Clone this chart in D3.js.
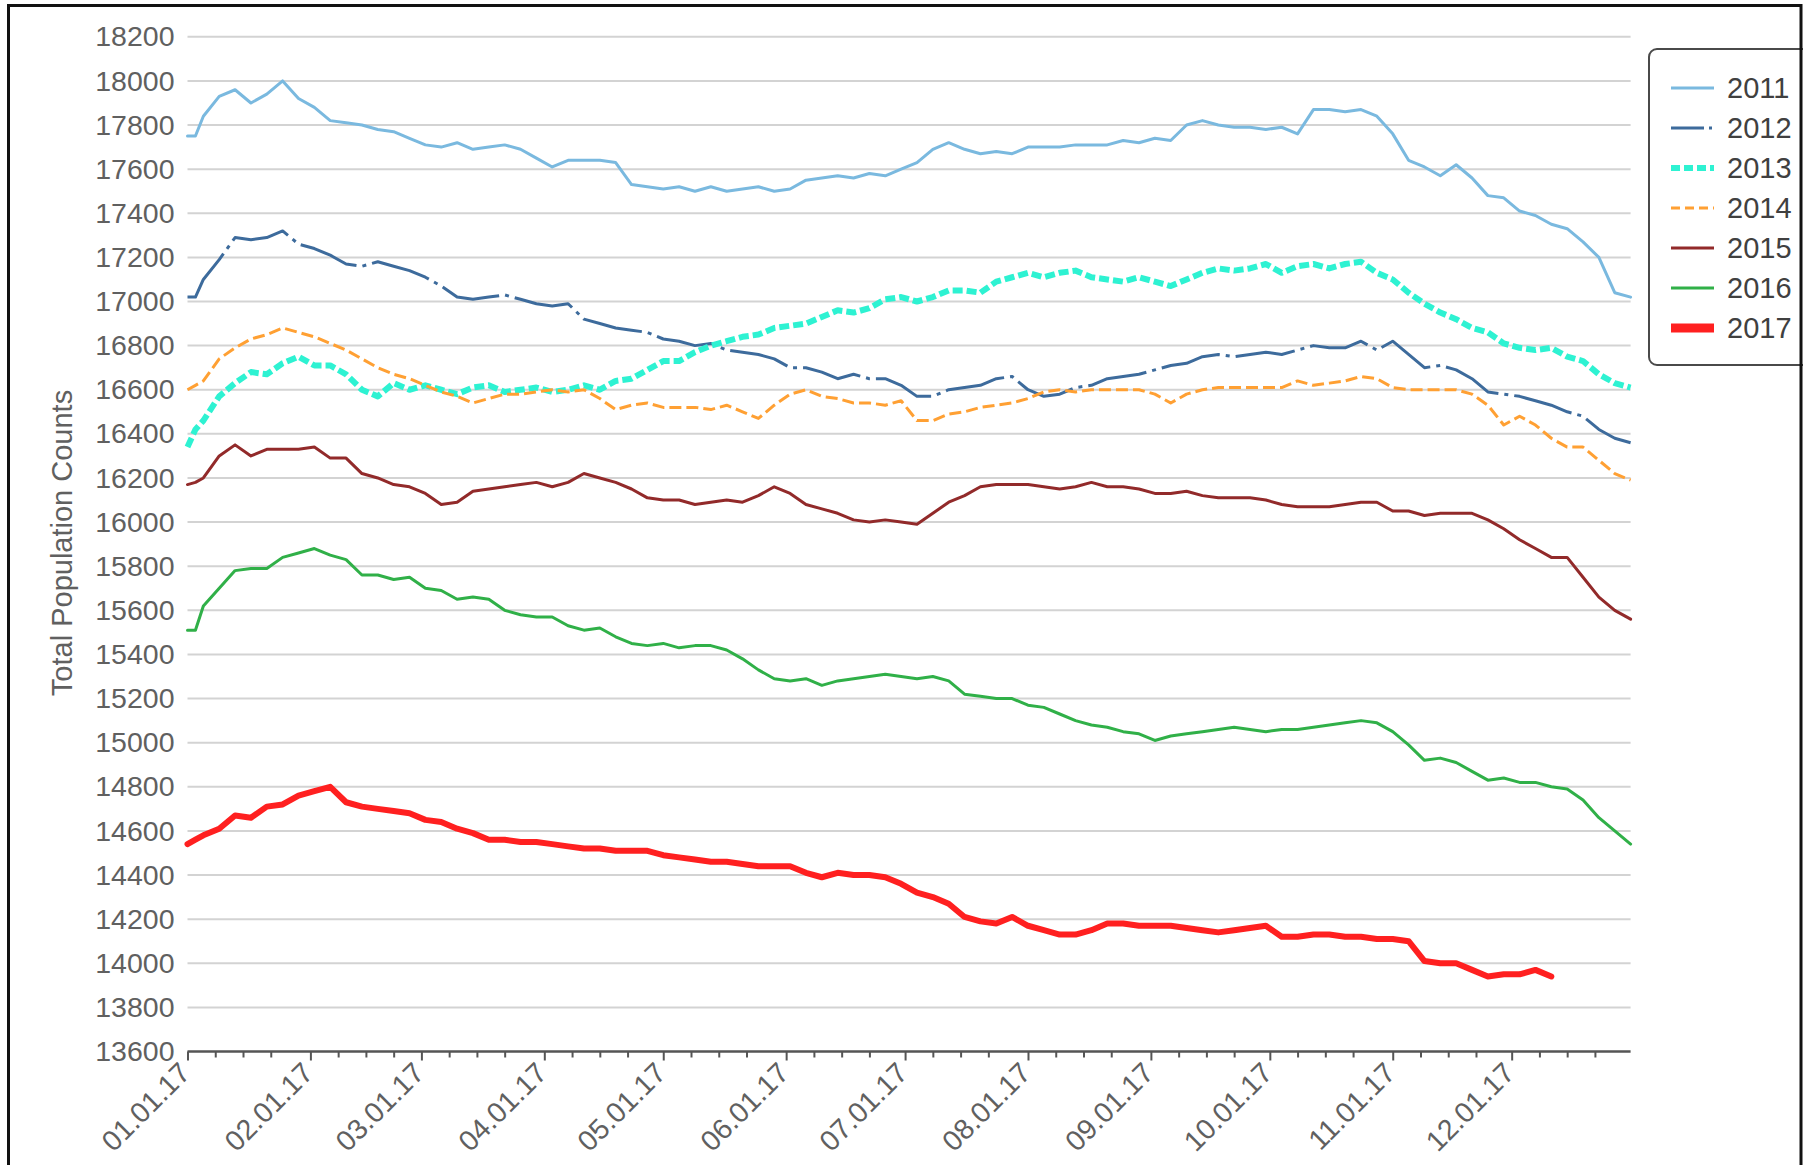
<!DOCTYPE html>
<html><head><meta charset="utf-8">
<script src="https://cdn.jsdelivr.net/npm/d3@7"></script>
<style>
body{margin:0;background:#fff;}
svg{display:block;font-family:"Liberation Sans",Arial,sans-serif;}
</style>
</head><body>
<svg id="chart" width="1803" height="1165"></svg>
<script>
// ---------------- DATA ----------------
const years = ["2011","2012","2013","2014","2015","2016","2017"];
// day of year (0 = Jan 1) of each sample
const dayOffsets = [0,2,4,8,12,16,20,24,28,32,36,40,44,48,52,56,60,64,68,72,76,80,84,88,92,96,100,104,108,112,116,120,124,128,132,136,140,144,148,152,156,160,164,168,172,176,180,184,188,192,196,200,204,208,212,216,220,224,228,232,236,240,244,248,252,256,260,264,268,272,276,280,284,288,292,296,300,304,308,312,316,320,324,328,332,336,340,344,348,352,356,360,364];

const v2011 = [17750,17750,17840,17930,17960,17900,17940,18000,17920,17880,17820,17810,17800,17780,17770,17740,17710,17700,17720,17690,17700,17710,17690,17650,17610,17640,17640,17640,17630,17530,17520,17510,17520,17500,17520,17500,17510,17520,17500,17510,17550,17560,17570,17560,17580,17570,17600,17630,17690,17720,17690,17670,17680,17670,17700,17700,17700,17710,17710,17710,17730,17720,17740,17730,17800,17820,17800,17790,17790,17780,17790,17760,17870,17870,17860,17870,17840,17760,17640,17610,17570,17620,17560,17480,17470,17410,17390,17350,17330,17270,17200,17040,17020];

const v2012 = [17020,17020,17100,17190,17290,17280,17290,17320,17260,17240,17210,17170,17160,17180,17160,17140,17110,17070,17020,17010,17020,17030,17010,16990,16980,16990,16920,16900,16880,16870,16860,16830,16820,16800,16810,16780,16770,16760,16740,16700,16700,16680,16650,16670,16650,16650,16620,16570,16570,16600,16610,16620,16650,16660,16600,16570,16580,16610,16620,16650,16660,16670,16690,16710,16720,16750,16760,16750,16760,16770,16760,16780,16800,16790,16790,16820,16780,16820,16760,16700,16710,16690,16650,16590,16580,16570,16550,16530,16500,16480,16420,16380,16360];

const v2013 = [16340,16420,16460,16570,16630,16680,16670,16720,16750,16710,16710,16670,16600,16570,16630,16600,16620,16600,16580,16610,16620,16590,16600,16610,16590,16600,16620,16600,16640,16650,16690,16730,16730,16770,16800,16820,16840,16850,16880,16890,16900,16930,16960,16950,16970,17010,17020,17000,17020,17050,17050,17040,17090,17110,17130,17110,17130,17140,17110,17100,17090,17110,17090,17070,17100,17130,17150,17140,17150,17170,17130,17160,17170,17150,17170,17180,17130,17100,17040,16990,16950,16920,16880,16860,16810,16790,16780,16790,16750,16730,16670,16630,16610];

const v2014 = [16600,16620,16640,16740,16790,16830,16850,16880,16860,16840,16810,16780,16740,16700,16670,16650,16620,16590,16570,16540,16560,16580,16580,16590,16600,16590,16600,16560,16510,16530,16540,16520,16520,16520,16510,16530,16500,16470,16530,16580,16600,16570,16560,16540,16540,16530,16550,16460,16460,16490,16500,16520,16530,16540,16560,16590,16600,16590,16600,16600,16600,16600,16580,16540,16580,16600,16610,16610,16610,16610,16610,16640,16620,16630,16640,16660,16650,16610,16600,16600,16600,16600,16580,16530,16440,16480,16440,16380,16340,16340,16280,16220,16190];

const v2015 = [16170,16180,16200,16300,16350,16300,16330,16330,16330,16340,16290,16290,16220,16200,16170,16160,16130,16080,16090,16140,16150,16160,16170,16180,16160,16180,16220,16200,16180,16150,16110,16100,16100,16080,16090,16100,16090,16120,16160,16130,16080,16060,16040,16010,16000,16010,16000,15990,16040,16090,16120,16160,16170,16170,16170,16160,16150,16160,16180,16160,16160,16150,16130,16130,16140,16120,16110,16110,16110,16100,16080,16070,16070,16070,16080,16090,16090,16050,16050,16030,16040,16040,16040,16010,15970,15920,15880,15840,15840,15750,15660,15600,15560];

const v2016 = [15510,15510,15620,15700,15780,15790,15790,15840,15860,15880,15850,15830,15760,15760,15740,15750,15700,15690,15650,15660,15650,15600,15580,15570,15570,15530,15510,15520,15480,15450,15440,15450,15430,15440,15440,15420,15380,15330,15290,15280,15290,15260,15280,15290,15300,15310,15300,15290,15300,15280,15220,15210,15200,15200,15170,15160,15130,15100,15080,15070,15050,15040,15010,15030,15040,15050,15060,15070,15060,15050,15060,15060,15070,15080,15090,15100,15090,15050,14990,14920,14930,14910,14870,14830,14840,14820,14820,14800,14790,14740,14660,14600,14540];

const v2017 = [14540,14560,14580,14610,14670,14660,14710,14720,14760,14780,14800,14730,14710,14700,14690,14680,14650,14640,14610,14590,14560,14560,14550,14550,14540,14530,14520,14520,14510,14510,14510,14490,14480,14470,14460,14460,14450,14440,14440,14440,14410,14390,14410,14400,14400,14390,14360,14320,14300,14270,14210,14190,14180,14210,14170,14150,14130,14130,14150,14180,14180,14170,14170,14170,14160,14150,14140,14150,14160,14170,14120,14120,14130,14130,14120,14120,14110,14110,14100,14010,14000,14000,13970,13940,13950,13950,13970,13940];

const yTicks = [13600,13800,14000,14200,14400,14600,14800,15000,15200,15400,15600,15800,16000,16200,16400,16600,16800,17000,17200,17400,17600,17800,18000,18200];
const monthLabels = ["01.01.17","02.01.17","03.01.17","04.01.17","05.01.17","06.01.17","07.01.17","08.01.17","09.01.17","10.01.17","11.01.17","12.01.17"];
const minorTickDays = [8,15,22];
const yTitle = "Total Population Counts";

// ---------------- STYLE ----------------
const seriesStyle = {
  "2011": {color:"#7ab9df", width:3, dash:null, legendDash:null},
  "2012": {color:"#3d6b9c", width:3, dash:"60,6,4,6", legendDash:"33,5,3,5"},
  "2013": {color:"#2ef2d2", width:6, dash:"10,4", legendDash:"9,4"},
  "2014": {color:"#ffa033", width:3, dash:"12,5", legendDash:"9,5"},
  "2015": {color:"#922a2a", width:3, dash:null, legendDash:null},
  "2016": {color:"#30b048", width:3, dash:null, legendDash:null},
  "2017": {color:"#ff2020", width:6, dash:null, legendDash:null, legendWidth:9}
};
const seriesValues = {"2011":v2011,"2012":v2012,"2013":v2013,"2014":v2014,"2015":v2015,"2016":v2016,"2017":v2017};

// ---------------- CHART ----------------
const svg = d3.select("#chart");
const start = new Date(Date.UTC(2017,0,1));
const end = new Date(Date.UTC(2017,11,31));
const x = d3.scaleUtc().domain([start,end]).range([187.5,1630.6]);
const y = d3.scaleLinear().domain([13600,18200]).range([1051.5,36.8]);
const dateOf = d => d3.utcDay.offset(start,d);
const FONT = "Liberation Sans, Arial, sans-serif";

// grid
svg.append("g").selectAll("line").data(yTicks.filter(t=>t>13600)).join("line")
  .attr("x1",x.range()[0]).attr("x2",x.range()[1])
  .attr("y1",d=>y(d)).attr("y2",d=>y(d))
  .attr("stroke","#d3d3d3").attr("stroke-width",2);

// y axis (labels only)
const yAxis = d3.axisLeft(y).tickValues(yTicks).tickSize(0).tickPadding(13).tickFormat(d3.format("d"));
const yg = svg.append("g").attr("transform",`translate(${x.range()[0]},0)`).call(yAxis);
yg.select(".domain").remove();
yg.selectAll("text").attr("font-size",28.5).attr("fill","#606060").attr("font-family",FONT);

// y title
svg.append("text").text(yTitle)
  .attr("transform","translate(64,543) rotate(-90)")
  .attr("text-anchor","middle").attr("dominant-baseline","middle")
  .attr("font-size",29).attr("fill","#606060");

// x axis
const monthDates = d3.range(12).map(m=>new Date(Date.UTC(2017,m,1)));
const minorDates = [];
monthDates.forEach(md=>minorTickDays.forEach(dd=>minorDates.push(new Date(Date.UTC(2017,md.getUTCMonth(),dd)))));
const xMinor = d3.axisBottom(x).tickValues(minorDates).tickSize(6).tickFormat("");
const xMajor = d3.axisBottom(x).tickValues(monthDates).tickSize(9).tickFormat((d,i)=>monthLabels[i]);
const xgMinor = svg.append("g").attr("transform",`translate(0,${y(13600)})`).call(xMinor);
xgMinor.select(".domain").remove();
xgMinor.selectAll("line").attr("stroke","#555").attr("stroke-width",2);
const xg = svg.append("g").attr("transform",`translate(0,${y(13600)})`).call(xMajor);
xg.select(".domain").attr("d",`M${x.range()[0]},0H${x.range()[1]}`).attr("stroke","#555").attr("stroke-width",2.5);
xg.selectAll(".tick line").attr("stroke","#555").attr("stroke-width",2);
xg.selectAll(".tick text")
  .attr("font-size",28.5).attr("fill","#606060").attr("font-family",FONT)
  .attr("text-anchor","end").attr("y",0).attr("dy",0)
  .attr("transform","translate(4,23) rotate(-45)");

// lines
const line = d3.line().x(d=>x(d[0])).y(d=>y(d[1])).curve(d3.curveLinear);
years.forEach(yr=>{
  const vals = seriesValues[yr];
  const pts = vals.map((v,i)=>[dateOf(dayOffsets[i]),v]);
  const st = seriesStyle[yr];
  svg.append("path").datum(pts).attr("d",line)
    .attr("fill","none").attr("stroke",st.color).attr("stroke-width",st.width)
    .attr("stroke-linejoin","round").attr("stroke-linecap",st.dash?"butt":"round")
    .attr("stroke-dasharray",st.dash);
});

// legend
const lg = svg.append("g");
lg.append("rect").attr("x",1649).attr("y",49).attr("width",220).attr("height",316).attr("rx",8)
  .attr("fill","#fff").attr("stroke","#4a4a4a").attr("stroke-width",2);
years.forEach((yr,i)=>{
  const cy = 88 + i*40;
  const st = seriesStyle[yr];
  lg.append("line").attr("x1",1671).attr("x2",1714).attr("y1",cy).attr("y2",cy)
    .attr("stroke",st.color).attr("stroke-width",st.legendWidth||st.width).attr("stroke-dasharray",st.legendDash);
  lg.append("text").text(yr).attr("x",1727).attr("y",cy).attr("dy","0.36em")
    .attr("font-size",29).attr("fill","#404040");
});

// outer frame
svg.append("rect").attr("x",8.5).attr("y",5.5).attr("width",1792.5).attr("height",1300)
  .attr("fill","none").attr("stroke","#111").attr("stroke-width",3);
</script>
</body></html>
